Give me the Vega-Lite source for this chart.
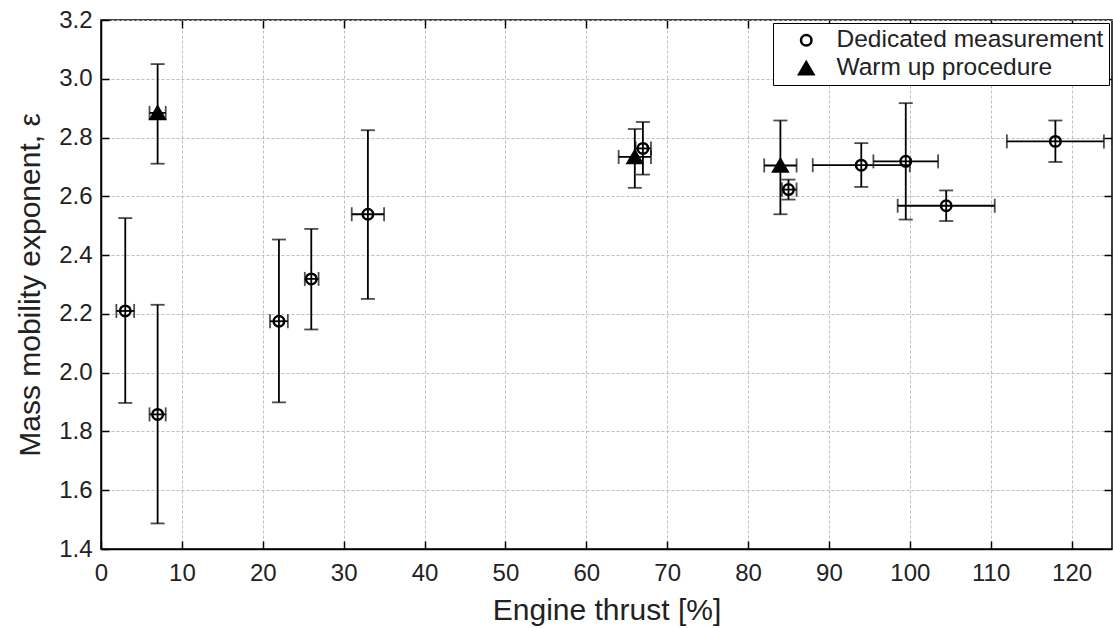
{
  "$schema": "https://vega.github.io/schema/vega-lite/v6.json",
  "width": 1011,
  "height": 529,
  "autosize": "none",
  "padding": {"left": 101, "top": 20, "right": 1, "bottom": 79},
  "background": "white",
  "config": {
    "font": "Liberation Sans",
    "view": {"stroke": "black", "strokeWidth": 1.5},
    "axis": {
      "labelFont": "Liberation Sans",
      "titleFont": "Liberation Sans",
      "labelFontSize": 24,
      "titleFontSize": 30,
      "titleFontWeight": "normal",
      "labelColor": "#222",
      "titleColor": "#222",
      "domainColor": "black",
      "domainWidth": 1.5,
      "tickColor": "black",
      "tickWidth": 1.5,
      "gridColor": "#bdbdbd",
      "gridDash": [3, 2],
      "gridWidth": 1
    },
    "legend": {
      "orient": "none",
      "legendX": 672,
      "legendY": 3,
      "strokeColor": "black",
      "fillColor": "white",
      "padding": 5,
      "labelFontSize": 24.5,
      "labelFont": "Liberation Sans",
      "labelColor": "#222",
      "labelLimit": 500,
      "symbolOffset": 16,
      "labelOffset": 18,
      "rowPadding": 3,
      "symbolStrokeWidth": 2.5
    }
  },
  "data": {
    "values": [
      {"type": "Dedicated measurement", "x": 3.0, "y": 2.21, "ylo": 1.897, "yhi": 2.526, "xlo": 1.9, "xhi": 4.1},
      {"type": "Dedicated measurement", "x": 7.0, "y": 1.858, "ylo": 1.487, "yhi": 2.231, "xlo": 6.0, "xhi": 8.0},
      {"type": "Dedicated measurement", "x": 22.0, "y": 2.175, "ylo": 1.899, "yhi": 2.453, "xlo": 20.9, "xhi": 23.1},
      {"type": "Dedicated measurement", "x": 26.0, "y": 2.319, "ylo": 2.147, "yhi": 2.489, "xlo": 25.2, "xhi": 26.9},
      {"type": "Dedicated measurement", "x": 33.0, "y": 2.539, "ylo": 2.251, "yhi": 2.825, "xlo": 31.0, "xhi": 35.0},
      {"type": "Dedicated measurement", "x": 67.0, "y": 2.763, "ylo": 2.674, "yhi": 2.853, "xlo": 66.1, "xhi": 68.0},
      {"type": "Dedicated measurement", "x": 85.0, "y": 2.623, "ylo": 2.589, "yhi": 2.657, "xlo": 84.2, "xhi": 86.0},
      {"type": "Dedicated measurement", "x": 94.0, "y": 2.706, "ylo": 2.632, "yhi": 2.781, "xlo": 88.0, "xhi": 100.0},
      {"type": "Dedicated measurement", "x": 99.5, "y": 2.719, "ylo": 2.521, "yhi": 2.917, "xlo": 95.5, "xhi": 103.5},
      {"type": "Dedicated measurement", "x": 104.5, "y": 2.568, "ylo": 2.516, "yhi": 2.62, "xlo": 98.5, "xhi": 110.5},
      {"type": "Dedicated measurement", "x": 118.0, "y": 2.787, "ylo": 2.717, "yhi": 2.858, "xlo": 112.0, "xhi": 124.0},
      {"type": "Warm up procedure", "x": 7.0, "y": 2.884, "ylo": 2.711, "yhi": 3.05, "xlo": 6.0, "xhi": 8.0},
      {"type": "Warm up procedure", "x": 66.0, "y": 2.734, "ylo": 2.629, "yhi": 2.829, "xlo": 64.0, "xhi": 68.0},
      {"type": "Warm up procedure", "x": 84.0, "y": 2.705, "ylo": 2.539, "yhi": 2.858, "xlo": 82.0, "xhi": 86.0}
    ]
  },
  "resolve": {"scale": {"x": "independent", "y": "independent"}},
  "layer": [
    {
      "layer": [
        {
          "mark": {"type": "point", "filled": true, "strokeWidth": 2.5, "opacity": 1},
          "encoding": {
            "x": {
              "field": "x", "type": "quantitative", "title": "Engine thrust [%]",
              "scale": {"domain": [0, 125], "nice": false, "zero": false},
              "axis": {
                "title": "Engine thrust [%]",
                "values": [0, 10, 20, 30, 40, 50, 60, 70, 80, 90, 100, 110, 120],
                "grid": true,
                "tickSize": -8,
                "labelPadding": 20,
                "titlePadding": 10,
                "labelFlush": false
              }
            },
            "y": {
              "field": "y", "type": "quantitative", "title": "Mass mobility exponent, ε",
              "scale": {"domain": [1.4, 3.2], "nice": false, "zero": false},
              "axis": {
                "title": "Mass mobility exponent, ε",
                "values": [1.4, 1.6, 1.8, 2.0, 2.2, 2.4, 2.6, 2.8, 3.0, 3.2],
                "format": ".1f",
                "grid": true,
                "tickSize": -8,
                "labelPadding": 17,
                "titlePadding": 13,
                "labelFlush": false
              }
            },
            "shape": {
              "field": "type", "type": "nominal", "title": null,
              "scale": {"domain": ["Dedicated measurement", "Warm up procedure"], "range": ["circle", "triangle-up"]}
            },
            "fill": {
              "field": "type", "type": "nominal", "title": null,
              "scale": {"domain": ["Dedicated measurement", "Warm up procedure"], "range": ["transparent", "black"]}
            },
            "stroke": {
              "field": "type", "type": "nominal", "title": null,
              "scale": {"domain": ["Dedicated measurement", "Warm up procedure"], "range": ["black", "black"]}
            },
            "size": {
              "field": "type", "type": "nominal", "title": null,
              "scale": {"domain": ["Dedicated measurement", "Warm up procedure"], "range": [110, 200]}
            }
          }
        },
        {
          "mark": {"type": "errorbar", "ticks": {"size": 14, "thickness": 1.8, "color": "black"}, "thickness": 1.8, "color": "black"},
          "encoding": {
            "x": {"field": "x", "type": "quantitative", "title": "Engine thrust [%]"},
            "y": {"field": "ylo", "type": "quantitative", "title": "Mass mobility exponent, ε"},
            "y2": {"field": "yhi"}
          }
        },
        {
          "mark": {"type": "errorbar", "ticks": {"size": 14, "thickness": 1.8, "color": "black"}, "thickness": 1.8, "color": "black"},
          "encoding": {
            "y": {"field": "y", "type": "quantitative", "title": "Mass mobility exponent, ε"},
            "x": {"field": "xlo", "type": "quantitative", "title": "Engine thrust [%]"},
            "x2": {"field": "xhi"}
          }
        }
      ]
    },
    {
      "mark": {"type": "point", "opacity": 0},
      "encoding": {
        "x": {
          "field": "x", "type": "quantitative",
          "scale": {"domain": [0, 125], "nice": false, "zero": false},
          "axis": {"orient": "top", "title": null, "labels": false, "grid": false, "domain": false, "tickSize": -8, "values": [10, 20, 30, 40, 50, 60, 70, 80, 90, 100, 110, 120]}
        },
        "y": {
          "field": "y", "type": "quantitative",
          "scale": {"domain": [1.4, 3.2], "nice": false, "zero": false},
          "axis": {"orient": "right", "title": null, "labels": false, "grid": false, "domain": false, "tickSize": -8, "values": [1.6, 1.8, 2.0, 2.2, 2.4, 2.6, 2.8, 3.0]}
        }
      }
    }
  ]
}
